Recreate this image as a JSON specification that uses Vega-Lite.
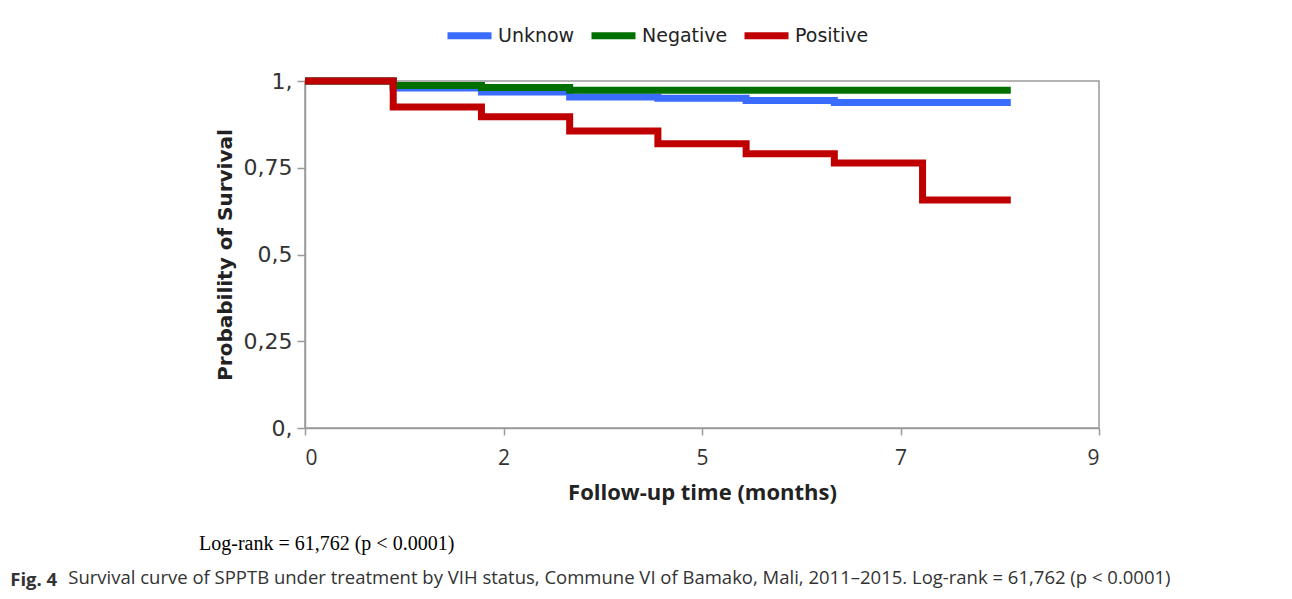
{
  "$schema": "https://vega.github.io/schema/vega-lite/v6.json",
  "background": "white",
  "padding": {"left": 10, "top": 10, "right": 5, "bottom": 5},
  "config": {
    "view": {"stroke": "#9a9a9a", "strokeWidth": 1.5},
    "axis": {"grid": false, "domainColor": "#9a9a9a", "domainWidth": 1.5, "tickColor": "#9a9a9a", "tickWidth": 1.5}
  },
  "title": {
    "text": "Survival curve of SPPTB under treatment by VIH status, Commune VI of Bamako, Mali, 2011–2015. Log-rank = 61,762 (p < 0.0001)",
    "orient": "bottom", "anchor": "start", "frame": "bounds", "offset": 0, "dx": 58, "dy": -20,
    "font": "Open Sans", "fontSize": 18.5, "fontWeight": "normal", "color": "#333333"
  },
  "vconcat": [
    {
      "title": {
        "text": "Fig. 4", "orient": "bottom", "anchor": "start", "frame": "bounds", "offset": 16, "dx": -188,
        "font": "Open Sans", "fontSize": 18.5, "fontWeight": "bold", "color": "#333333"
      },
      "vconcat": [
        {
          "title": {
            "text": "Log-rank = 61,762 (p < 0.0001)", "orient": "bottom", "anchor": "start", "frame": "group", "offset": 31, "dx": -106,
            "font": "Liberation Serif", "fontSize": 20, "fontWeight": "normal", "color": "#000000"
          },
          "width": 794,
          "height": 347,
          "data": {"values": [
            {"status": "Unknow", "time": 0, "survival": 1},
            {"status": "Unknow", "time": 1, "survival": 0.980},
            {"status": "Unknow", "time": 2, "survival": 0.968},
            {"status": "Unknow", "time": 3, "survival": 0.954},
            {"status": "Unknow", "time": 4, "survival": 0.950},
            {"status": "Unknow", "time": 5, "survival": 0.944},
            {"status": "Unknow", "time": 6, "survival": 0.938},
            {"status": "Unknow", "time": 7, "survival": 0.938},
            {"status": "Unknow", "time": 8, "survival": 0.938},
            {"status": "Negative", "time": 0, "survival": 1},
            {"status": "Negative", "time": 1, "survival": 0.987},
            {"status": "Negative", "time": 2, "survival": 0.981},
            {"status": "Negative", "time": 3, "survival": 0.973},
            {"status": "Negative", "time": 4, "survival": 0.973},
            {"status": "Negative", "time": 5, "survival": 0.973},
            {"status": "Negative", "time": 6, "survival": 0.973},
            {"status": "Negative", "time": 7, "survival": 0.973},
            {"status": "Negative", "time": 8, "survival": 0.973},
            {"status": "Positive", "time": 0, "survival": 1},
            {"status": "Positive", "time": 1, "survival": 0.925},
            {"status": "Positive", "time": 2, "survival": 0.897},
            {"status": "Positive", "time": 3, "survival": 0.856},
            {"status": "Positive", "time": 4, "survival": 0.819},
            {"status": "Positive", "time": 5, "survival": 0.790},
            {"status": "Positive", "time": 6, "survival": 0.764},
            {"status": "Positive", "time": 7, "survival": 0.657},
            {"status": "Positive", "time": 8, "survival": 0.657}
          ]},
          "mark": {"type": "line", "interpolate": "step-after", "strokeWidth": 7},
          "encoding": {
            "x": {
              "field": "time", "type": "quantitative",
              "scale": {"domain": [0, 9], "nice": false},
              "axis": {
                "values": [0, 2.25, 4.5, 6.75, 9],
                "labelExpr": "toString(round(datum.value))",
                "tickSize": 7, "labelPadding": 12,
                "labelFont": "Open Sans", "labelFontSize": 21, "labelColor": "#333333",
                "title": "Follow-up time (months)", "titleFont": "Open Sans", "titleFontSize": 22, "titleFontWeight": "bold", "titleColor": "#222222", "titlePadding": 14
              }
            },
            "y": {
              "field": "survival", "type": "quantitative",
              "scale": {"domain": [0, 1], "nice": false},
              "axis": {
                "values": [0, 0.25, 0.5, 0.75, 1],
                "labelExpr": "datum.value === 0 ? '0,' : datum.value === 1 ? '1,' : replace(toString(datum.value), '.', ',')",
                "tickSize": 8, "labelPadding": 5,
                "labelFont": "DejaVu Sans", "labelFontSize": 22, "labelColor": "#333333",
                "title": "Probability of Survival", "titleFont": "DejaVu Sans", "titleFontSize": 20, "titleFontWeight": "bold", "titleColor": "#222222", "titlePadding": 8
              }
            },
            "color": {
              "field": "status", "type": "nominal",
              "scale": {"domain": ["Unknow", "Negative", "Positive"], "range": ["#3a6cff", "#007000", "#c00000"]},
              "legend": {
                "title": null, "orient": "none", "direction": "horizontal",
                "legendX": 139, "legendY": -71,
                "symbolType": "stroke", "symbolSize": 1936, "symbolStrokeWidth": 7,
                "labelFont": "DejaVu Sans", "labelFontSize": 19, "labelColor": "#222222",
                "labelOffset": 3, "columnPadding": 2
              }
            }
          }
        }
      ]
    }
  ]
}
